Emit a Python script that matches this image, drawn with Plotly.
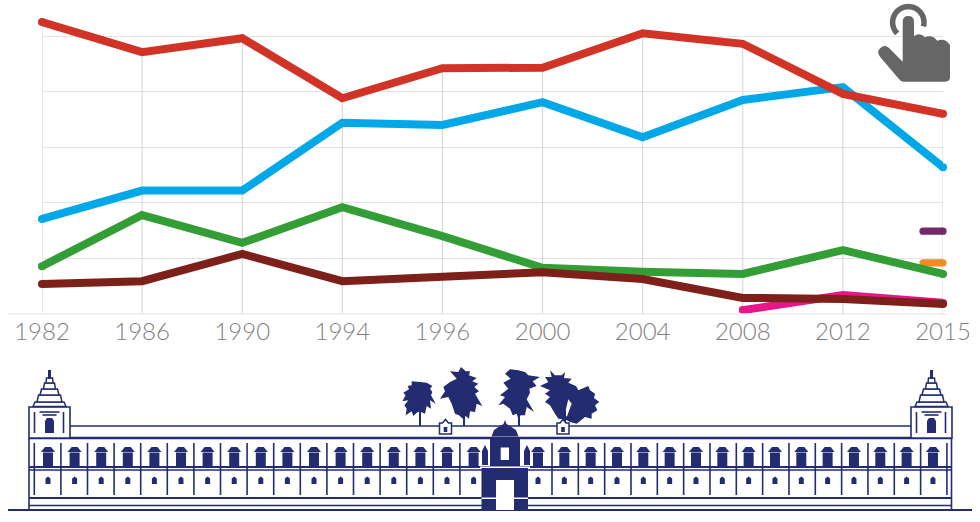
import numpy as np
import plotly.graph_objects as go

years = ["1982", "1986", "1990", "1994", "1996", "2000", "2004", "2008", "2012", "2015"]
red = [52.5, 47.1, 49.6, 38.8, 44.2, 44.3, 50.5, 48.6, 39.6, 36.0]
blue = [17.1, 22.2, 22.2, 34.4, 34.0, 38.1, 31.8, 38.5, 40.8, 26.4]
green = [8.6, 17.8, 12.8, 19.2, 14.0, 8.3, 7.6, 7.2, 11.5, 7.2]
maroon = [5.4, 5.9, 10.8, 5.9, 6.7, 7.5, 6.3, 2.9, 2.7, 1.8]
pink = [None, None, None, None, None, None, None, 0.7, 3.4, 2.0]
purple_2015 = 14.9
orange_2015 = 9.2
y_ticks = [0, 10, 20, 30, 40, 50]

NAVY = "#232c70"
GREY = "#666666"
PURPLE = "#742a68"
ORANGE = "#f08a24"

W, H = 980, 522


def X(x):
    return x / W


def Y(y):
    return (H - y) / H


shapes = []


def line(x0, y0, x1, y1, w=1.5, color=NAVY):
    shapes.append(dict(type="line", xref="paper", yref="paper", x0=X(x0), y0=Y(y0), x1=X(x1), y1=Y(y1),
                       line=dict(color=color, width=w)))


def rect(x0, y0, x1, y1, fill=NAVY, w=0, color=NAVY):
    shapes.append(dict(type="rect", xref="paper", yref="paper", x0=X(x0), y0=Y(y0), x1=X(x1), y1=Y(y1),
                       fillcolor=fill, line=dict(color=color, width=w)))


def poly(pts, fill=NAVY, w=0, color=NAVY):
    d = "M " + " L ".join(f"{X(a):.5f} {Y(b):.5f}" for a, b in pts) + " Z"
    shapes.append(dict(type="path", xref="paper", yref="paper", path=d, fillcolor=fill,
                       line=dict(color=color, width=w)))


def crop(ox, oy, pts):
    return [(ox + a / 3, oy + b / 3) for a, b in pts]


def tower(cx):
    rect(cx - 20.5, 407, cx + 20.5, 438, fill="white", w=1.6)
    line(cx - 15, 412, cx - 15, 433, 1.6)
    line(cx + 14, 412, cx + 14, 433, 1.6)
    line(cx - 10, 412, cx + 10, 412, 1.6)
    line(cx - 7, 415, cx + 7, 415, 1.6)
    poly([(cx - 4.5, 433), (cx - 4.5, 421), (cx - 2.5, 418), (cx + 2.5, 418), (cx + 4.5, 421), (cx + 4.5, 433)])
    for half_lo, half_hi, top, bot in [(16.5, 14.5, 402, 406.5), (12.5, 11, 395, 402), (9.5, 8, 389, 395),
                                       (6, 5, 383, 389), (3.5, 3, 378, 383)]:
        poly([(cx - half_lo, bot), (cx - half_hi, top), (cx + half_hi, top), (cx + half_lo, bot)],
             fill="white", w=1.5)
    rect(cx - 1.5, 370, cx + 1.5, 379)


def window(cx):
    poly([(cx - 7, 452), (cx - 3, 447), (cx + 3, 447), (cx + 7, 452)])
    rect(cx - 5, 452.5, cx + 5, 467)
    poly([(cx - 2.5, 478.5), (cx, 476.5), (cx + 2.5, 478.5), (cx + 2.5, 484), (cx - 2.5, 484)])


def pavilion(cx):
    poly([(cx - 6, 434), (cx - 6, 423), (cx - 3, 423), (cx, 419.5), (cx + 3, 423), (cx + 6, 423), (cx + 6, 434)],
         fill="white", w=1.5)
    rect(cx - 1.8, 427, cx + 1.8, 432)


# palace: long horizontals
line(8, 510, 972, 510, 2)
line(29, 505.5, 951, 505.5, 1.5)
line(29, 498, 951, 498, 2)
line(29, 470, 951, 470, 1.5)
line(29, 467, 951, 467, 2)
line(29, 438, 951, 438, 2.6)
line(70, 426, 911, 426, 1.6)
line(29, 438, 29, 510, 1.6)
line(951.5, 438, 951.5, 510, 1.6)

for k in range(17):
    line(34.3 + 26.6 * k, 443, 34.3 + 26.6 * k, 495, 1.6)
    window(48 + 26.6 * k)
for k in range(16):
    line(552 + 26.33 * k, 443, 552 + 26.33 * k, 495, 1.6)
    window(538 + 26.33 * k)

tower(49.5)
tower(931.5)

# palms
TREES = [
    (395, 362, [(50, 58), (75, 60), (95, 62), (112, 72), (105, 80), (112, 90), (108, 100), (122, 125), (105, 115),
                (108, 140), (95, 132), (90, 155), (78, 150), (68, 150), (55, 162), (50, 148), (32, 160), (35, 140),
                (28, 130), (40, 115), (22, 118), (32, 100), (25, 92), (42, 82), (38, 72), (50, 70)]),
    (395, 362, [(165, 28), (190, 30), (198, 15), (212, 28), (225, 28), (222, 40), (245, 48), (232, 58), (250, 65),
                (238, 75), (252, 88), (240, 95), (262, 132), (245, 125), (240, 150), (225, 148), (222, 170),
                (212, 162), (205, 172), (192, 160), (180, 155), (170, 125), (160, 105), (135, 110), (150, 88),
                (145, 75), (165, 60), (185, 50)]),
    (490, 362, [(60, 22), (85, 25), (105, 30), (115, 40), (150, 45), (128, 58), (140, 72), (118, 80), (120, 92),
                (110, 112), (132, 150), (110, 135), (105, 160), (92, 160), (85, 170), (80, 155), (68, 160), (60, 140),
                (40, 125), (25, 130), (45, 105), (30, 100), (55, 80), (40, 62), (62, 50), (45, 35)]),
    (490, 362, [(180, 25), (195, 40), (215, 40), (225, 30), (222, 48), (245, 50), (235, 62), (258, 72), (265, 85),
                (295, 72), (300, 85), (315, 95), (312, 108), (328, 120), (315, 130), (322, 145), (305, 155),
                (305, 170), (285, 165), (260, 185), (240, 180), (225, 172), (205, 170), (195, 155), (180, 130),
                (165, 120), (180, 105), (165, 95), (180, 85), (150, 72), (175, 60), (165, 45), (185, 45)]),
]
for ox, oy, pts in TREES:
    poly(crop(ox, oy, pts))
poly(crop(490, 362, [(235, 112), (245, 125), (232, 160), (222, 172), (228, 140)]), fill="white")
for tx in [420, 464, 519, 565]:
    line(tx, 408, tx, 426, 2)

pavilion(445.5)
pavilion(563)

# gate
rect(481.5, 467, 528, 510)
rect(496, 480, 514, 510, fill="white")
rect(481.5, 497.5, 496, 499, fill="white")
rect(514, 497.5, 528, 499, fill="white")
rect(490, 438, 520, 467)
rect(500.7, 447.5, 509, 460, fill="white")
poly([(491.5, 436.5), (494, 430), (500, 426), (503.5, 424), (505, 420), (506.5, 424), (510, 426), (516, 430), (518.5, 436.5)])
poly([(482, 465), (482, 451), (485, 445), (488, 451), (488, 465)])
poly([(524, 465), (524, 451), (527, 445), (530, 451), (530, 465)])
rect(480, 466.5, 530, 468, fill="white")

# tap icon
ang = np.radians(np.linspace(225, -15, 40))
ring = " L ".join(f"{X(908.3 + 15.7 * np.cos(a)):.5f} {Y(22.3 - 15.7 * np.sin(a)):.5f}" for a in ang)
shapes.append(dict(type="path", xref="paper", yref="paper", path="M " + ring, line=dict(color=GREY, width=5.5)))
hand = [("M", 902.7, 21.7), ("Q", 902.7, 16, 908.3, 16), ("Q", 914, 16, 914, 21.7), ("L", 914, 36),
        ("Q", 920, 31.7, 925, 37.3), ("Q", 931.7, 34.3, 937.3, 40.7), ("Q", 945, 37.3, 950, 45), ("L", 950, 77.3),
        ("Q", 950, 81.7, 945, 81.7), ("L", 903.3, 81.7), ("Q", 900.7, 81.7, 898.3, 78.3), ("L", 880, 56.7),
        ("Q", 876, 51.7, 880.7, 47.7), ("Q", 885, 44, 889.3, 48.3), ("L", 902.7, 61.7)]
d = ""
for seg in hand:
    nums = seg[1:]
    d += seg[0] + " " + " ".join(f"{X(v) if i % 2 == 0 else Y(v):.5f}" for i, v in enumerate(nums)) + " "
shapes.append(dict(type="path", xref="paper", yref="paper", path=d + "Z", fillcolor=GREY, line=dict(width=0)))

# baseline runs past the gridlines on the left
line(8, 314, 947, 314, 1.5, "#ececec")

# short stubs ending at 2015; the plot area clips them, a marker makes the right cap
stub = "M -20 -3.6 L 0 -3.6 L 0 3.6 L -20 3.6 Q -23.6 3.6 -23.6 0 Q -23.6 -3.6 -20 -3.6 Z"
for val, col in [(purple_2015, PURPLE), (orange_2015, ORANGE)]:
    shapes.append(dict(type="path", layer="between", xref="x", yref="y", xsizemode="pixel", ysizemode="pixel",
                       xanchor=len(years) - 1, yanchor=val, path=stub, fillcolor=col, line=dict(width=0)))

fig = go.Figure()

# drop lines from the highest value of each year
all_series = [red, blue, green, maroon]
drop_x, drop_y = [], []
for i, yr in enumerate(years):
    drop_x += [yr, yr, None]
    drop_y += [0, max(s[i] for s in all_series), None]
fig.add_trace(go.Scatter(x=drop_x, y=drop_y, mode="lines", line=dict(color="#d2d2d6", width=1), hoverinfo="skip",
                         showlegend=False))

for val, col in [(purple_2015, PURPLE), (orange_2015, ORANGE)]:
    fig.add_trace(go.Scatter(x=[years[-1]], y=[val], mode="markers", cliponaxis=False,
                             marker=dict(color=col, size=7.2, line=dict(width=0)), showlegend=False))

for name, vals, col in [("pink", pink, "#e5178a"), ("green", green, "#339e35"), ("maroon", maroon, "#7d2019"),
                        ("blue", blue, "#00a8e8"), ("red", red, "#d13326")]:
    present = [i for i, v in enumerate(vals) if v is not None]
    sizes = [8 if i in (present[0], present[-1]) else 0 for i in range(len(vals))]
    fig.add_trace(go.Scatter(x=years, y=vals, name=name, mode="lines+markers", cliponaxis=False,
                             line=dict(color=col, width=8),
                             marker=dict(color=col, size=sizes, opacity=1, line=dict(width=0)),
                             showlegend=False))

fig.update_layout(
    width=W,
    height=H,
    margin=dict(l=0, r=0, t=0, b=0, autoexpand=False),
    paper_bgcolor="white",
    plot_bgcolor="white",
    showlegend=False,
    shapes=shapes,
    xaxis=dict(
        domain=[X(42), X(943)],
        anchor="free",
        position=Y(314.5),
        automargin=False,
        type="category",
        categoryorder="array",
        categoryarray=years,
        range=[0, len(years) - 1],
        showgrid=False,
        zeroline=False,
        showline=False,
        ticks="",
        tickfont=dict(family="Lato Light, Lato", size=24, color="#7f7f7f"),
    ),
    yaxis=dict(
        domain=[Y(314), 1],
        range=[0, 314 / 5.56],
        automargin=False,
        tickvals=y_ticks,
        showticklabels=False,
        ticks="",
        gridcolor="#e4e4e6",
        gridwidth=1.2,
        zeroline=False,
        showline=False,
    ),
)

# the default page margin would cut off the top of the tap icon
fig.write_html("out.html", config={"displayModeBar": False}, post_script="document.body.style.margin='0';")
